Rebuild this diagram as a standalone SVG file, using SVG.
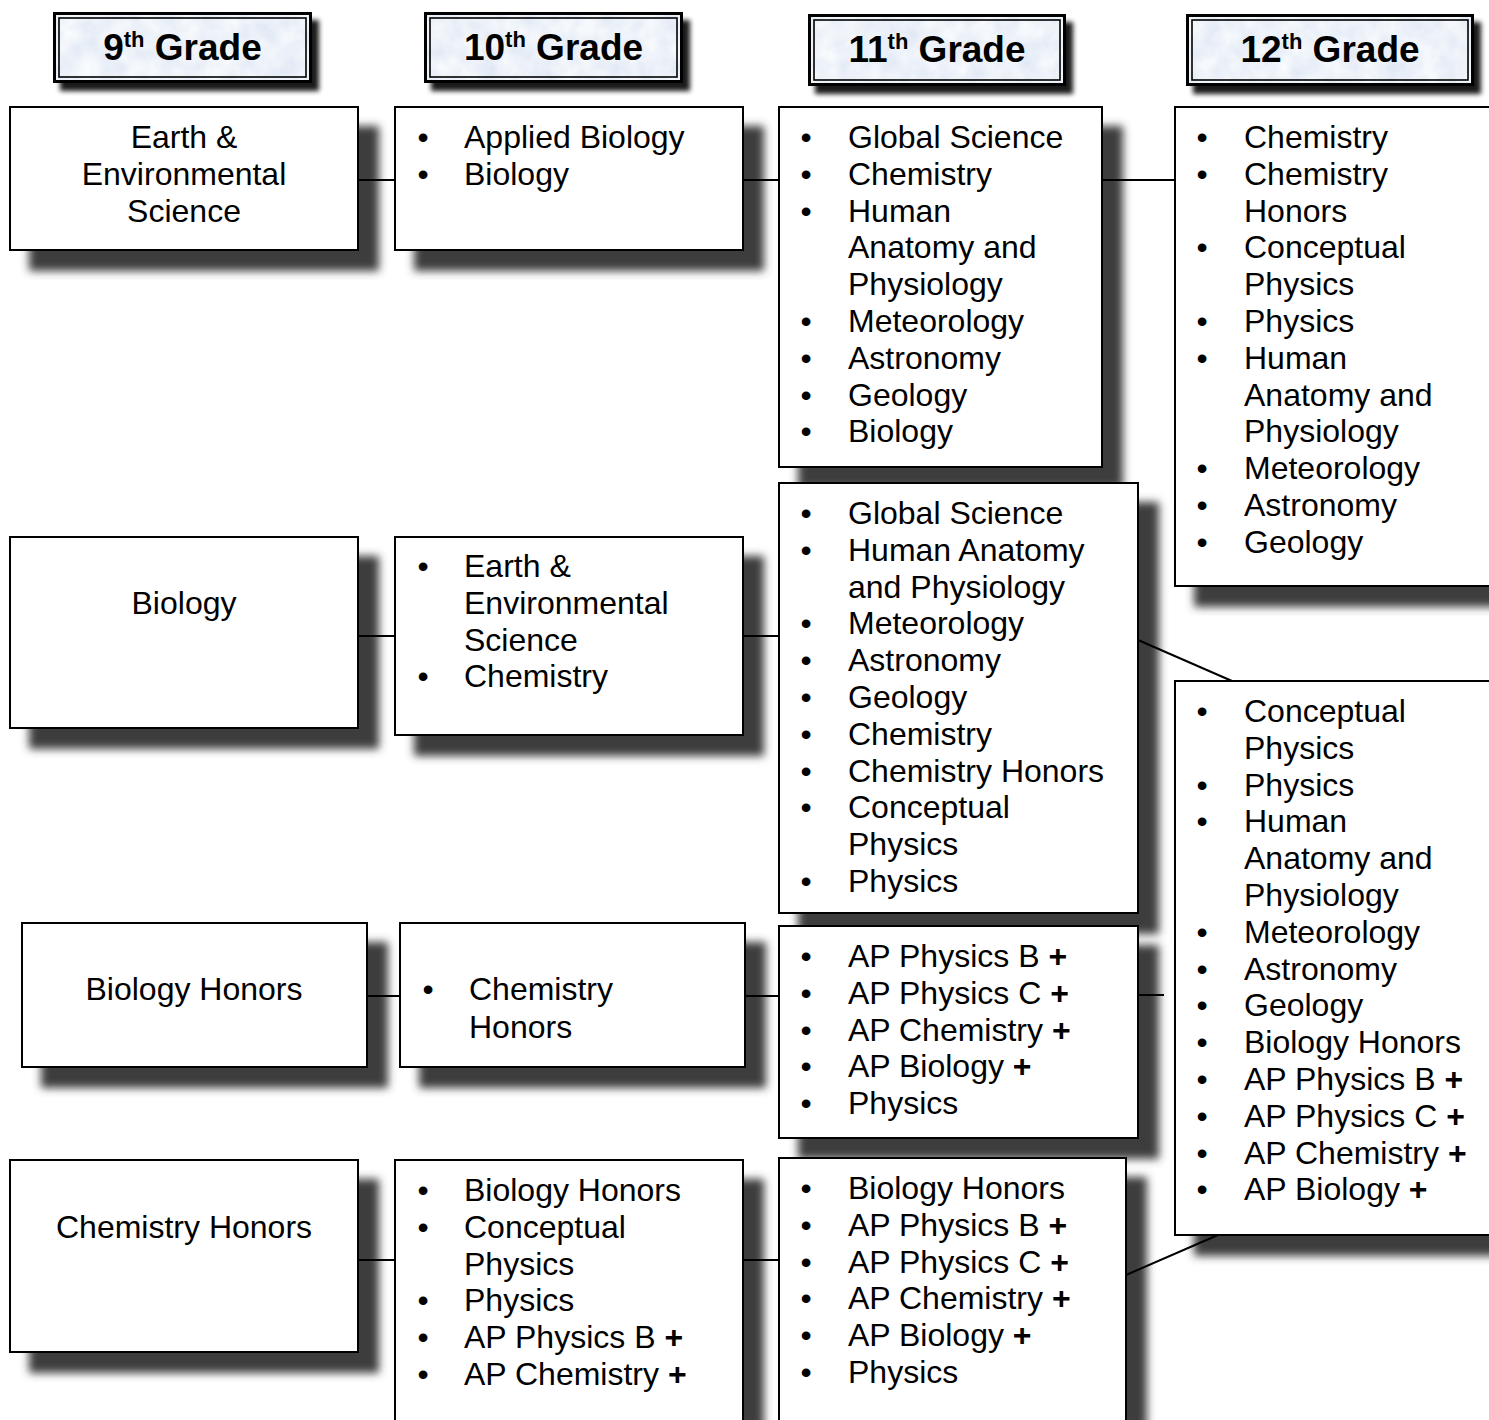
<svg xmlns="http://www.w3.org/2000/svg" width="1489" height="1420" viewBox="0 0 1489 1420">
<style>
.box{fill:#fff;stroke:#000;stroke-width:2;filter:url(#sh)}
.t{font-family:"Liberation Sans",Arial,sans-serif;font-size:32px;fill:#000}
.c{text-anchor:middle}
.bu{text-anchor:middle}
.p{font-weight:bold}
.h{font-family:"Liberation Sans",Arial,sans-serif;font-size:37px;font-weight:bold;fill:#000;text-anchor:middle}
.sup{font-size:22px}
.hout{fill:none;stroke:#000;stroke-width:3}
.hin{fill:none;stroke:#000;stroke-width:1.6}
.hbg{filter:url(#tex)}
.hsh{fill:#000;filter:url(#hs)}
.con line{stroke:#000;stroke-width:2}
</style>
<defs>
<filter id="sh" x="-5%" y="-5%" width="150%" height="150%">
<feDropShadow dx="20" dy="20" stdDeviation="4" flood-color="#3c3c3c" flood-opacity="1"/>
</filter>
<filter id="hs" x="-10%" y="-20%" width="150%" height="180%">
<feGaussianBlur in="SourceAlpha" stdDeviation="2.5"/>
<feOffset dx="7" dy="8"/>
<feComponentTransfer><feFuncA type="linear" slope="0.9"/></feComponentTransfer>
</filter>
<filter id="tex" x="0" y="0" width="100%" height="100%">
<feTurbulence type="fractalNoise" baseFrequency="0.05" numOctaves="3" seed="4" result="n"/>
<feColorMatrix in="n" type="matrix" values="0.28 0 0 0 0.71  0.22 0 0 0 0.78  0.1 0 0 0 0.9  0 0 0 0 1" result="c"/>
<feComposite in="c" in2="SourceGraphic" operator="in"/>
</filter>
</defs>

<g id="h9">
<rect class="hsh" x="53" y="12" width="259" height="71"/>
<rect class="hbg" x="53" y="12" width="259" height="71" fill="#fff"/>
<rect class="hout" x="54.5" y="13.5" width="256" height="68"/>
<rect class="hin" x="59" y="18" width="247" height="59"/>
<text class="h" x="182.5" y="60">9<tspan class="sup" dy="-13">th</tspan><tspan dy="13"> Grade</tspan></text>
</g>
<g id="h10">
<rect class="hsh" x="424" y="12" width="259" height="71"/>
<rect class="hbg" x="424" y="12" width="259" height="71" fill="#fff"/>
<rect class="hout" x="425.5" y="13.5" width="256" height="68"/>
<rect class="hin" x="430" y="18" width="247" height="59"/>
<text class="h" x="553.5" y="60">10<tspan class="sup" dy="-13">th</tspan><tspan dy="13"> Grade</tspan></text>
</g>
<g id="h11">
<rect class="hsh" x="808" y="14" width="258" height="72"/>
<rect class="hbg" x="808" y="14" width="258" height="72" fill="#fff"/>
<rect class="hout" x="809.5" y="15.5" width="255" height="69"/>
<rect class="hin" x="814" y="20" width="246" height="60"/>
<text class="h" x="937" y="62">11<tspan class="sup" dy="-13">th</tspan><tspan dy="13"> Grade</tspan></text>
</g>
<g id="h12">
<rect class="hsh" x="1186" y="14" width="288" height="72"/>
<rect class="hbg" x="1186" y="14" width="288" height="72" fill="#fff"/>
<rect class="hout" x="1187.5" y="15.5" width="285" height="69"/>
<rect class="hin" x="1192" y="20" width="276" height="60"/>
<text class="h" x="1330" y="62">12<tspan class="sup" dy="-13">th</tspan><tspan dy="13"> Grade</tspan></text>
</g>

<g id="a1">
<rect class="box" x="10" y="107" width="348" height="143"/>
<text class="t c" x="184" y="148">Earth &amp;</text>
<text class="t c" x="184" y="184.8">Environmental</text>
<text class="t c" x="184" y="221.6">Science</text>
</g>
<g id="b1">
<rect class="box" x="395" y="107" width="348" height="143"/>
<text class="t bu" x="423" y="148">•</text><text class="t" x="464" y="148">Applied Biology</text>
<text class="t bu" x="423" y="184.8">•</text><text class="t" x="464" y="184.8">Biology</text>
</g>
<g id="c1">
<rect class="box" x="779" y="107" width="323" height="360"/>
<text class="t bu" x="806" y="148">•</text><text class="t" x="848" y="148">Global Science</text>
<text class="t bu" x="806" y="184.8">•</text><text class="t" x="848" y="184.8">Chemistry</text>
<text class="t bu" x="806" y="221.6">•</text><text class="t" x="848" y="221.6">Human</text>
<text class="t" x="848" y="258.4">Anatomy and</text>
<text class="t" x="848" y="295.2">Physiology</text>
<text class="t bu" x="806" y="332">•</text><text class="t" x="848" y="332">Meteorology</text>
<text class="t bu" x="806" y="368.8">•</text><text class="t" x="848" y="368.8">Astronomy</text>
<text class="t bu" x="806" y="405.6">•</text><text class="t" x="848" y="405.6">Geology</text>
<text class="t bu" x="806" y="442.4">•</text><text class="t" x="848" y="442.4">Biology</text>
</g>
<g id="d1">
<rect class="box" x="1175" y="107" width="330" height="479"/>
<text class="t bu" x="1202" y="148">•</text><text class="t" x="1244" y="148">Chemistry</text>
<text class="t bu" x="1202" y="184.8">•</text><text class="t" x="1244" y="184.8">Chemistry</text>
<text class="t" x="1244" y="221.6">Honors</text>
<text class="t bu" x="1202" y="258.4">•</text><text class="t" x="1244" y="258.4">Conceptual</text>
<text class="t" x="1244" y="295.2">Physics</text>
<text class="t bu" x="1202" y="332">•</text><text class="t" x="1244" y="332">Physics</text>
<text class="t bu" x="1202" y="368.8">•</text><text class="t" x="1244" y="368.8">Human</text>
<text class="t" x="1244" y="405.6">Anatomy and</text>
<text class="t" x="1244" y="442.4">Physiology</text>
<text class="t bu" x="1202" y="479.2">•</text><text class="t" x="1244" y="479.2">Meteorology</text>
<text class="t bu" x="1202" y="516">•</text><text class="t" x="1244" y="516">Astronomy</text>
<text class="t bu" x="1202" y="552.8">•</text><text class="t" x="1244" y="552.8">Geology</text>
</g>

<g id="a2">
<rect class="box" x="10" y="537" width="348" height="191"/>
<text class="t c" x="184" y="614">Biology</text>
</g>
<g id="b2">
<rect class="box" x="395" y="537" width="348" height="198"/>
<text class="t bu" x="423" y="577">•</text><text class="t" x="464" y="577">Earth &amp;</text>
<text class="t" x="464" y="613.8">Environmental</text>
<text class="t" x="464" y="650.6">Science</text>
<text class="t bu" x="423" y="687.4">•</text><text class="t" x="464" y="687.4">Chemistry</text>
</g>
<g id="c2">
<rect class="box" x="779" y="483" width="359" height="430"/>
<text class="t bu" x="806" y="524">•</text><text class="t" x="848" y="524">Global Science</text>
<text class="t bu" x="806" y="560.8">•</text><text class="t" x="848" y="560.8">Human Anatomy</text>
<text class="t" x="848" y="597.6">and Physiology</text>
<text class="t bu" x="806" y="634.4">•</text><text class="t" x="848" y="634.4">Meteorology</text>
<text class="t bu" x="806" y="671.2">•</text><text class="t" x="848" y="671.2">Astronomy</text>
<text class="t bu" x="806" y="708">•</text><text class="t" x="848" y="708">Geology</text>
<text class="t bu" x="806" y="744.8">•</text><text class="t" x="848" y="744.8">Chemistry</text>
<text class="t bu" x="806" y="781.6">•</text><text class="t" x="848" y="781.6">Chemistry Honors</text>
<text class="t bu" x="806" y="818.4">•</text><text class="t" x="848" y="818.4">Conceptual</text>
<text class="t" x="848" y="855.2">Physics</text>
<text class="t bu" x="806" y="892">•</text><text class="t" x="848" y="892">Physics</text>
</g>
<g id="d2">
<rect class="box" x="1175" y="681" width="330" height="554"/>
<text class="t bu" x="1202" y="722">•</text><text class="t" x="1244" y="722">Conceptual</text>
<text class="t" x="1244" y="758.8">Physics</text>
<text class="t bu" x="1202" y="795.6">•</text><text class="t" x="1244" y="795.6">Physics</text>
<text class="t bu" x="1202" y="832.4">•</text><text class="t" x="1244" y="832.4">Human</text>
<text class="t" x="1244" y="869.2">Anatomy and</text>
<text class="t" x="1244" y="906">Physiology</text>
<text class="t bu" x="1202" y="942.8">•</text><text class="t" x="1244" y="942.8">Meteorology</text>
<text class="t bu" x="1202" y="979.6">•</text><text class="t" x="1244" y="979.6">Astronomy</text>
<text class="t bu" x="1202" y="1016.4">•</text><text class="t" x="1244" y="1016.4">Geology</text>
<text class="t bu" x="1202" y="1053.2">•</text><text class="t" x="1244" y="1053.2">Biology Honors</text>
<text class="t bu" x="1202" y="1090">•</text><text class="t" x="1244" y="1090">AP Physics B <tspan class="p">+</tspan></text>
<text class="t bu" x="1202" y="1126.8">•</text><text class="t" x="1244" y="1126.8">AP Physics C <tspan class="p">+</tspan></text>
<text class="t bu" x="1202" y="1163.6">•</text><text class="t" x="1244" y="1163.6">AP Chemistry <tspan class="p">+</tspan></text>
<text class="t bu" x="1202" y="1200.4">•</text><text class="t" x="1244" y="1200.4">AP Biology <tspan class="p">+</tspan></text>
</g>

<g id="a3">
<rect class="box" x="22" y="923" width="345" height="144"/>
<text class="t c" x="194" y="1000">Biology Honors</text>
</g>
<g id="b3">
<rect class="box" x="400" y="923" width="345" height="144"/>
<text class="t bu" x="428" y="1000">•</text><text class="t" x="469" y="1000">Chemistry</text>
<text class="t" x="469" y="1038">Honors</text>
</g>
<g id="c3">
<rect class="box" x="779" y="926" width="359" height="212"/>
<text class="t bu" x="806" y="967">•</text><text class="t" x="848" y="967">AP Physics B <tspan class="p">+</tspan></text>
<text class="t bu" x="806" y="1003.8">•</text><text class="t" x="848" y="1003.8">AP Physics C <tspan class="p">+</tspan></text>
<text class="t bu" x="806" y="1040.6">•</text><text class="t" x="848" y="1040.6">AP Chemistry <tspan class="p">+</tspan></text>
<text class="t bu" x="806" y="1077.4">•</text><text class="t" x="848" y="1077.4">AP Biology <tspan class="p">+</tspan></text>
<text class="t bu" x="806" y="1114.2">•</text><text class="t" x="848" y="1114.2">Physics</text>
</g>

<g id="a4">
<rect class="box" x="10" y="1160" width="348" height="192"/>
<text class="t c" x="184" y="1238">Chemistry Honors</text>
</g>
<g id="b4">
<rect class="box" x="395" y="1160" width="348" height="290"/>
<text class="t bu" x="423" y="1201">•</text><text class="t" x="464" y="1201">Biology Honors</text>
<text class="t bu" x="423" y="1237.8">•</text><text class="t" x="464" y="1237.8">Conceptual</text>
<text class="t" x="464" y="1274.6">Physics</text>
<text class="t bu" x="423" y="1311.4">•</text><text class="t" x="464" y="1311.4">Physics</text>
<text class="t bu" x="423" y="1348.2">•</text><text class="t" x="464" y="1348.2">AP Physics B <tspan class="p">+</tspan></text>
<text class="t bu" x="423" y="1385">•</text><text class="t" x="464" y="1385">AP Chemistry <tspan class="p">+</tspan></text>
</g>
<g id="c4">
<rect class="box" x="779" y="1158" width="347" height="292"/>
<text class="t bu" x="806" y="1199">•</text><text class="t" x="848" y="1199">Biology Honors</text>
<text class="t bu" x="806" y="1235.8">•</text><text class="t" x="848" y="1235.8">AP Physics B <tspan class="p">+</tspan></text>
<text class="t bu" x="806" y="1272.6">•</text><text class="t" x="848" y="1272.6">AP Physics C <tspan class="p">+</tspan></text>
<text class="t bu" x="806" y="1309.4">•</text><text class="t" x="848" y="1309.4">AP Chemistry <tspan class="p">+</tspan></text>
<text class="t bu" x="806" y="1346.2">•</text><text class="t" x="848" y="1346.2">AP Biology <tspan class="p">+</tspan></text>
<text class="t bu" x="806" y="1383">•</text><text class="t" x="848" y="1383">Physics</text>
</g>

<g id="connectors" class="con">
<line x1="358" y1="180" x2="395" y2="180"/>
<line x1="743" y1="180" x2="779" y2="180"/>
<line x1="1102" y1="180" x2="1175" y2="180"/>
<line x1="358" y1="636" x2="395" y2="636"/>
<line x1="743" y1="636" x2="779" y2="636"/>
<line x1="1138" y1="640" x2="1232" y2="681"/>
<line x1="367" y1="996" x2="400" y2="996"/>
<line x1="745" y1="996" x2="779" y2="996"/>
<line x1="1138" y1="995" x2="1164" y2="995"/>
<line x1="358" y1="1260" x2="395" y2="1260"/>
<line x1="743" y1="1260" x2="779" y2="1260"/>
<line x1="1126" y1="1275" x2="1218" y2="1235"/>
</g>
</svg>
